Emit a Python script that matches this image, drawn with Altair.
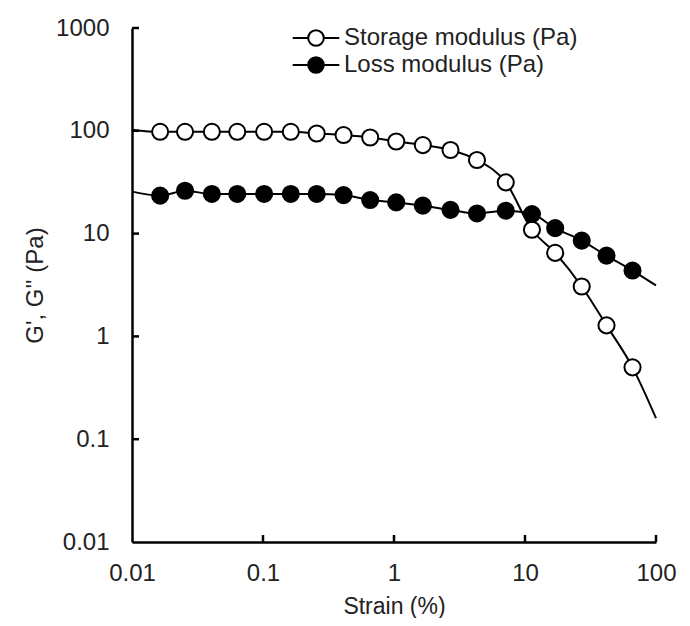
import altair as alt
import pandas as pd

# ---- data ----
strain = [0.0164, 0.0254, 0.0407, 0.0636, 0.102, 0.163, 0.257, 0.412, 0.658, 1.04,
          1.66, 2.70, 4.30, 7.13, 11.3, 17.0, 27.1, 41.9, 66.2]
storage = [97.8, 97.8, 97.8, 97.8, 97.8, 97.8, 94.2, 90.9, 86.1, 78.7,
           72.6, 65.0, 52.0, 31.5, 10.9, 6.5, 3.06, 1.28, 0.50]
loss = [23.4, 26.1, 24.3, 24.3, 24.3, 24.3, 24.3, 23.7, 21.2, 20.1,
        18.7, 17.0, 15.7, 16.7, 15.5, 11.3, 8.55, 6.1, 4.37]

# fitted curve end values (at strain 0.01 and 100)
curve_x_ends = [0.01, 100]
storage_ends = [102, 0.16]
loss_ends = [25.6, 3.13]

series_names = ["Storage modulus (Pa)", "Loss modulus (Pa)"]
series_fill = ["white", "black"]

x_label_values = [0.01, 0.1, 1, 10, 100]
y_label_values = [0.01, 0.1, 1, 10, 100, 1000]
x_tick_values = [0.1, 1, 10, 100]
y_tick_values = [0.1, 1, 10, 100, 1000]

# ---- tables ----
pts = pd.concat([
    pd.DataFrame({"strain": strain, "value": storage, "series": series_names[0]}),
    pd.DataFrame({"strain": strain, "value": loss, "series": series_names[1]}),
])
curve = pd.concat([
    pd.DataFrame({"strain": [curve_x_ends[0]] + strain + [curve_x_ends[1]],
                  "value": [storage_ends[0]] + storage + [storage_ends[1]],
                  "series": series_names[0]}),
    pd.DataFrame({"strain": [curve_x_ends[0]] + strain + [curve_x_ends[1]],
                  "value": [loss_ends[0]] + loss + [loss_ends[1]],
                  "series": series_names[1]}),
])
xt = pd.DataFrame({"tx": x_tick_values})
yt = pd.DataFrame({"ty": y_tick_values})

W, H = 524, 514
TICK = 7
FONT = "Liberation Sans"
TXT = "#222222"

xscale = alt.Scale(type="log", domain=[0.01, 100], nice=False)
yscale = alt.Scale(type="log", domain=[0.01, 1000], nice=False)

xaxis = alt.Axis(title="Strain (%)", values=x_label_values, format="~g",
                 grid=False, ticks=False, tickSize=0, labelPadding=19,
                 labelFlush=False, labelOverlap=False,
                 domainColor="black", domainWidth=2.5,
                 labelFont=FONT, labelFontSize=24, labelColor=TXT,
                 titleFont=FONT, titleFontSize=23, titleFontWeight="normal",
                 titleColor=TXT, titleY=53, titleBaseline="top")
yaxis = alt.Axis(title="G', G'' (Pa)", values=y_label_values, format="~g",
                 grid=False, ticks=False, tickSize=0, labelPadding=23,
                 labelFlush=False, labelOverlap=False,
                 domainColor="black", domainWidth=2.5,
                 labelFont=FONT, labelFontSize=24, labelColor=TXT,
                 titleFont=FONT, titleFontSize=24, titleFontWeight="normal",
                 titleColor=TXT, titleX=-90, titleY=257,
                 titleBaseline="alphabetic", titleAlign="center", titleAngle=270)

X = alt.X("strain:Q", scale=xscale, axis=xaxis)
Y = alt.Y("value:Q", scale=yscale, axis=yaxis)

legend_path = ("M-2.33,0L-0.78,0M0.78,0L2.33,0"
               "M0.78,0A0.78,0.78,0,1,1,-0.78,0A0.78,0.78,0,1,1,0.78,0Z")

lines = alt.Chart(curve).mark_line(color="black", strokeWidth=2,
                                   interpolate="monotone").encode(
    x=X, y=Y, detail="series:N", order="strain:Q")

points = alt.Chart(pts).mark_point(shape="circle", filled=True, size=260,
                                   stroke="black", strokeWidth=2,
                                   opacity=1).encode(
    x=X, y=Y,
    fill=alt.Fill("series:N",
                  scale=alt.Scale(domain=series_names, range=series_fill),
                  sort=series_names,
                  legend=alt.Legend(title=None, orient="none",
                                    legendX=172, legendY=-2,
                                    symbolType=legend_path, symbolSize=400,
                                    symbolStrokeColor="black",
                                    symbolStrokeWidth=2, symbolOffset=0,
                                    labelFont=FONT, labelFontSize=24,
                                    labelColor=TXT, labelOffset=16,
                                    labelLimit=0,
                                    rowPadding=3, padding=0)),
)

# inward tick marks (the axis' own ticks can only point outward)
xticks = alt.Chart(xt).mark_tick(color="black", thickness=2.5, size=TICK,
                                 orient="vertical", opacity=1).encode(
    x=alt.X("tx:Q", scale=xscale, axis=xaxis),
    y=alt.value(H - TICK / 2))
yticks = alt.Chart(yt).mark_tick(color="black", thickness=2.5, size=TICK,
                                 orient="horizontal", opacity=1).encode(
    y=alt.Y("ty:Q", scale=yscale, axis=yaxis),
    x=alt.value(TICK / 2))

chart = alt.layer(lines, xticks, yticks, points).properties(
    width=W, height=H,
    autosize=alt.AutoSizeParams(type="none"),
    padding={"left": 124, "top": 20, "right": 26, "bottom": 76},
    background="white",
).configure_view(stroke=None)

chart.save("out.html", embed_options={"renderer": "svg", "actions": False})
